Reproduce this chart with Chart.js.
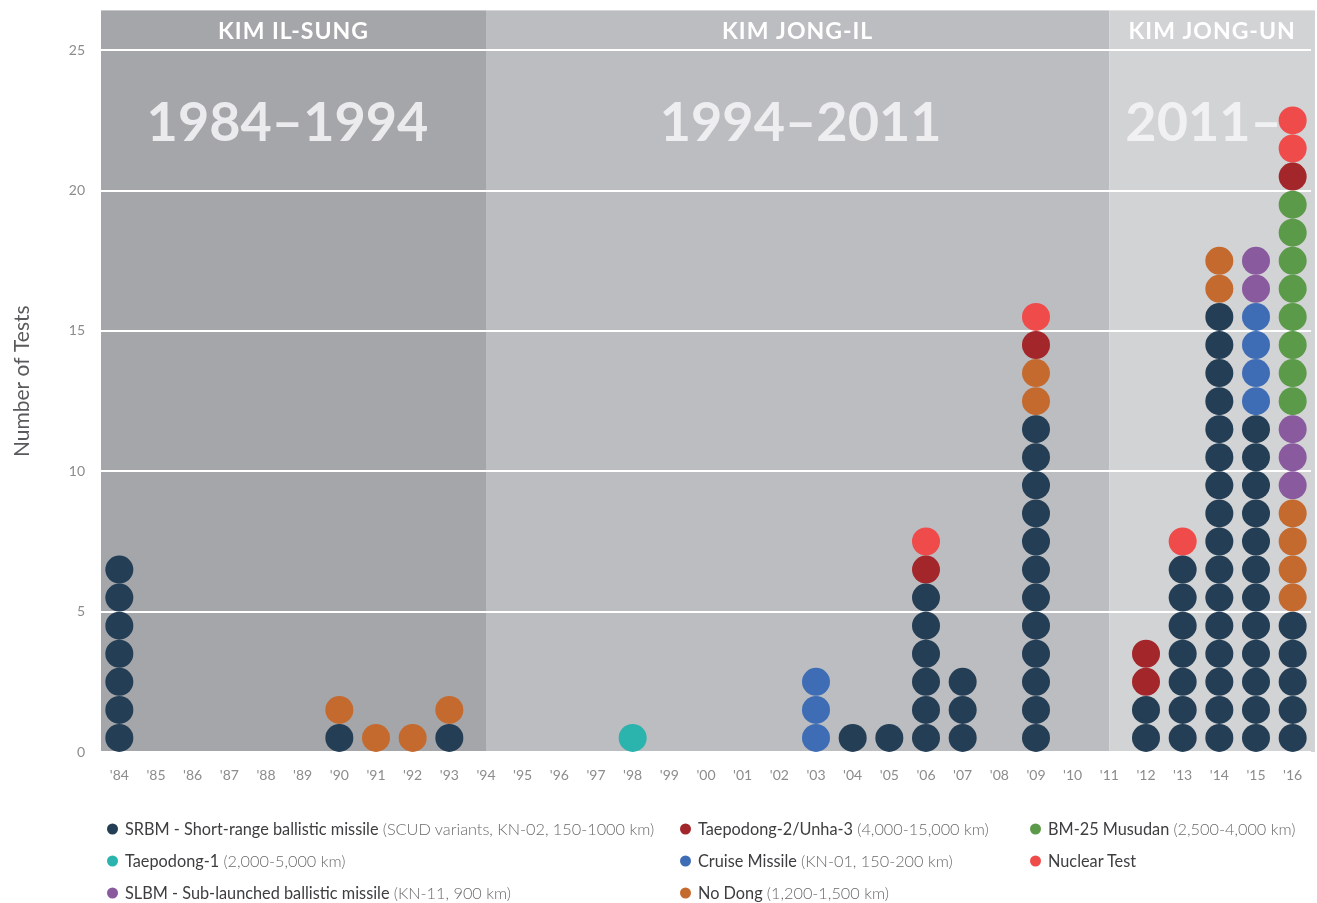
<!DOCTYPE html>
<html>
<head>
<meta charset="utf-8">
<script src="https://cdn.jsdelivr.net/npm/chart.js@4/dist/chart.umd.min.js"></script>
<style>
  html, body { margin: 0; padding: 0; background: #fff; overflow: hidden; }
  #wrap { position: relative; width: 1317px; height: 903px; overflow: hidden; }
  #c { position: absolute; left: 0; top: -14px; }
  #legend { position: absolute; left: 0; top: 0; width: 1317px; height: 903px; pointer-events: none;
            font-family: Lato, "Open Sans", sans-serif; font-size: 16.3px; }
  .li { position: absolute; white-space: nowrap; transform: translateY(-50%); }
  .dot { display: inline-block; width: 11px; height: 11px; border-radius: 50%; margin-right: 7px; vertical-align: 0px; }
  .nm { color: #3e3e40; }
  .rg { color: #6a6a6c; font-weight: 300; }
</style>
</head>
<body>
<div id="wrap">
  <canvas id="c" width="1325" height="814"></canvas>
  <div id="legend"></div>
</div>
<script>
// ---------- DATA ----------
const years = ["'84","'85","'86","'87","'88","'89","'90","'91","'92","'93","'94","'95","'96","'97","'98","'99","'00","'01","'02","'03","'04","'05","'06","'07","'08","'09","'10","'11","'12","'13","'14","'15","'16"];
//                    84 85 86 87 88 89 90 91 92 93 94 95 96 97 98 99 00 01 02 03 04 05 06 07 08 09 10 11 12 13 14 15 16
const srbm        = [  7, 0, 0, 0, 0, 0, 1, 0, 0, 1, 0, 0, 0, 0, 0, 0, 0, 0, 0, 0, 1, 1, 6, 3, 0,12, 0, 0, 2, 7,16,12, 5];
const taepodong1  = [  0, 0, 0, 0, 0, 0, 0, 0, 0, 0, 0, 0, 0, 0, 1, 0, 0, 0, 0, 0, 0, 0, 0, 0, 0, 0, 0, 0, 0, 0, 0, 0, 0];
const cruise      = [  0, 0, 0, 0, 0, 0, 0, 0, 0, 0, 0, 0, 0, 0, 0, 0, 0, 0, 0, 3, 0, 0, 0, 0, 0, 0, 0, 0, 0, 0, 0, 4, 0];
const noDong      = [  0, 0, 0, 0, 0, 0, 1, 1, 1, 1, 0, 0, 0, 0, 0, 0, 0, 0, 0, 0, 0, 0, 0, 0, 0, 2, 0, 0, 0, 0, 2, 0, 4];
const slbm        = [  0, 0, 0, 0, 0, 0, 0, 0, 0, 0, 0, 0, 0, 0, 0, 0, 0, 0, 0, 0, 0, 0, 0, 0, 0, 0, 0, 0, 0, 0, 0, 2, 3];
const musudan     = [  0, 0, 0, 0, 0, 0, 0, 0, 0, 0, 0, 0, 0, 0, 0, 0, 0, 0, 0, 0, 0, 0, 0, 0, 0, 0, 0, 0, 0, 0, 0, 0, 8];
const taepodong2  = [  0, 0, 0, 0, 0, 0, 0, 0, 0, 0, 0, 0, 0, 0, 0, 0, 0, 0, 0, 0, 0, 0, 1, 0, 0, 1, 0, 0, 2, 0, 0, 0, 1];
const nuclear     = [  0, 0, 0, 0, 0, 0, 0, 0, 0, 0, 0, 0, 0, 0, 0, 0, 0, 0, 0, 0, 0, 0, 1, 0, 0, 1, 0, 0, 0, 1, 0, 0, 2];

const yTicks = [0, 5, 10, 15, 20, 25];
const eras = [
  { leader: "KIM IL-SUNG",  period: "1984\u20131994", from: "'84", to: "'94" },
  { leader: "KIM JONG-IL",  period: "1994\u20132011", from: "'94", to: "'11" },
  { leader: "KIM JONG-UN",  period: "2011\u2013",     from: "'11", to: "'16" }
];

// Series in stacking order (bottom -> top)
const seriesNames  = ["SRBM - Short-range ballistic missile", "Taepodong-1", "Cruise Missile", "No Dong", "SLBM - Sub-launched ballistic missile", "BM-25 Musudan", "Taepodong-2/Unha-3", "Nuclear Test"];
const seriesRanges = ["(SCUD variants, KN-02, 150-1000 km)", "(2,000-5,000 km)", "(KN-01, 150-200 km)", "(1,200-1,500 km)", "(KN-11, 900 km)", "(2,500-4,000 km)", "(4,000-15,000 km)", ""];
const seriesCounts = [srbm, taepodong1, cruise, noDong, slbm, musudan, taepodong2, nuclear];

// ---------- STYLE ----------
const seriesColors = ["#243e55", "#2bb3ad", "#3f6db5", "#c46a2f", "#8a5a9e", "#5a9a48", "#a3262a", "#ef4b4b"];
const eraColors = ["#a5a6a9", "#bcbdc1", "#d2d3d5"];
// legend layout: [seriesIndex, column, row]
const legendLayout = [[0,0,0],[1,0,1],[4,0,2],[6,1,0],[2,1,1],[3,1,2],[5,2,0],[7,2,1]];
const legendColX = [107, 680, 1030];
const legendRowY = [828, 860, 892];

// ---------- BUILD DATASETS (stack dots per year) ----------
const base = years.map(() => 0);
const datasets = seriesCounts.map((counts, s) => {
  const pts = [];
  counts.forEach((n, i) => {
    for (let k = 0; k < n; k++) {
      pts.push({ x: years[i], y: base[i] + k + 0.5 });
    }
    base[i] += n;
  });
  return {
    label: seriesNames[s],
    data: pts,
    showLine: false,
    pointRadius: 14,
    pointHoverRadius: 14,
    pointBorderWidth: 0,
    pointBackgroundColor: seriesColors[s],
    pointBorderColor: seriesColors[s],
    backgroundColor: seriesColors[s]
  };
});

// ---------- PLUGIN: era bands and labels ----------
function eraBounds(chart, i) {
  const { chartArea: a, scales: { x } } = chart;
  const e = eras[i];
  const x0 = i === 0 ? a.left : x.getPixelForValue(years.indexOf(e.from));
  const x1 = i === eras.length - 1 ? a.right + 4 : x.getPixelForValue(years.indexOf(e.to));
  return [x0, x1];
}
const erasPlugin = {
  id: 'eras',
  beforeDraw(chart) {
    const { ctx, chartArea: a } = chart;
    ctx.save();
    eras.forEach((e, i) => {
      const [x0, x1] = eraBounds(chart, i);
      ctx.fillStyle = eraColors[i];
      ctx.fillRect(x0, a.top, x1 - x0, a.bottom - a.top);
    });
    ctx.restore();
  },
  beforeDatasetsDraw(chart) {
    const { ctx, chartArea: a, scales: { y } } = chart;
    ctx.save();
    const y25 = y.getPixelForValue(25);
    eras.forEach((e, i) => {
      const [x0, x1] = eraBounds(chart, i);
      const cx = (x0 + x1) / 2;
      ctx.fillStyle = '#ffffff';
      ctx.font = 'bold 23px Lato, "Open Sans", sans-serif';
      ctx.letterSpacing = '1px';
      ctx.textAlign = 'center';
      ctx.textBaseline = 'middle';
      ctx.fillText(e.leader, cx, (a.top + y25) / 2 + 1);
      ctx.letterSpacing = '0px';
      ctx.fillStyle = 'rgba(245,245,247,0.88)';
      ctx.font = 'bold 54px Lato, "Open Sans", sans-serif';
      const yy = y.getPixelForValue(22.4);
      if (i === eras.length - 1) {
        ctx.textAlign = 'left';
        ctx.fillText(e.period, x0 + 16, yy);
      } else {
        ctx.fillText(e.period, cx - (i === 0 ? 6 : -3), yy);
      }
    });
    ctx.restore();
  }
};

new Chart(document.getElementById('c'), {
  type: 'line',
  data: { labels: years, datasets },
  plugins: [erasPlugin],
  options: {
    responsive: false,
    animation: false,
    events: [],
    layout: { padding: { top: 10, right: 6, left: 0, bottom: 0 } },
    plugins: { legend: { display: false }, tooltip: { enabled: false } },
    scales: {
      x: {
        type: 'category',
        offset: true,
        afterFit(s) { s.height = 48; },
        grid: { display: false, drawTicks: false },
        border: { display: false },
        ticks: { color: '#8c8c8e', font: { family: 'Lato, "Open Sans", sans-serif', size: 14 }, padding: 15, maxRotation: 0, autoSkip: false }
      },
      y: {
        min: 0,
        max: 26.42,
        afterFit(s) { s.width = 101; },
        afterBuildTicks(s) { s.ticks = yTicks.map(v => ({ value: v })); },
        grid: { color: '#ffffff', lineWidth: 2, drawTicks: false },
        border: { display: false },
        ticks: { color: '#8c8c8e', font: { family: 'Lato, "Open Sans", sans-serif', size: 14 }, padding: 16 },
        title: { display: true, text: 'Number of Tests', color: '#5a5a5c', font: { family: 'Lato, "Open Sans", sans-serif', size: 21 }, padding: { top: 10, bottom: 0 } }
      }
    }
  }
});

// ---------- HTML LEGEND ----------
const legendEl = document.getElementById('legend');
legendLayout.forEach(([s, col, row]) => {
  const d = document.createElement('div');
  d.className = 'li';
  d.style.left = legendColX[col] + 'px';
  d.style.top = legendRowY[row] + 'px';
  d.innerHTML = '<span class="dot" style="background:' + seriesColors[s] + '"></span>' +
    '<span class="nm">' + seriesNames[s] + '</span>' +
    (seriesRanges[s] ? ' <span class="rg">' + seriesRanges[s] + '</span>' : '');
  legendEl.appendChild(d);
});
</script>
</body>
</html>
